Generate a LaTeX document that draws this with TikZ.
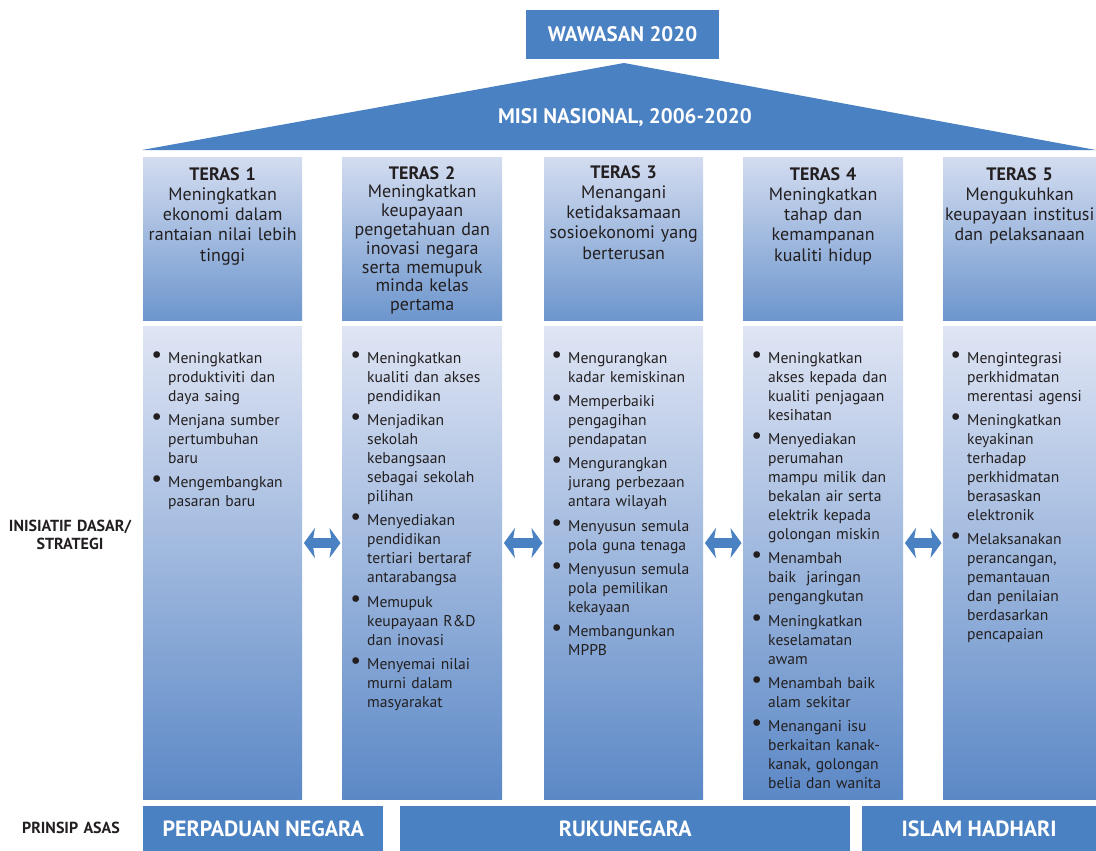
\documentclass[tikz,border=0pt]{standalone}
\usepackage{fontspec}
\setmainfont{PT Sans}
\usetikzlibrary{arrows.meta}
\definecolor{wblue}{HTML}{4A81C2}
\definecolor{ink}{HTML}{231F20}
\definecolor{hdtop}{HTML}{D3DCF0}
\definecolor{hdbot}{HTML}{6D96CD}
\definecolor{bdtop}{HTML}{DFE5F4}
\definecolor{bdbot}{HTML}{5B88C6}
\newcommand{\bul}{\leavevmode\llap{\raisebox{1pt}{\fontsize{24}{24}\selectfont\textbullet}\hspace{6pt}}}

\begin{document}
\begin{tikzpicture}
[x=1pt, y=-1pt,
hdbox/.style ={rectangle, inner sep=0pt, anchor=north west,
minimum height=163, top color=hdtop, bottom color=hdbot},
bdbox/.style ={rectangle, inner sep=0pt, anchor=north west,
minimum height=473, top color=bdtop, bottom color=bdbot},
hdtext/.style ={anchor=base, inner sep=0pt, text width=170pt, align=center,
text=ink, font=\fontsize{18}{20.3}\selectfont},
bdtext/.style ={anchor=base west, inner sep=0pt, text width=135pt, align=left,
text=ink, font=\fontsize{15.6}{19}\selectfont},
bar/.style ={rectangle, inner sep=0pt, fill=wblue, text=white,
minimum height=45, font=\bfseries\fontsize{22}{24}\selectfont},
side/.style ={anchor=base, inner sep=0pt, text width=150pt, align=center,
text=ink, font=\bfseries\fontsize{16}{18}\selectfont},
twoway/.style ={draw=wblue, line width=10pt,
>={Stealth[length=11pt,width=30pt,inset=2.5pt]}, <->}]

\useasboundingbox (0,0) rectangle (1096,851);

% roof
\node[bar, minimum width=193, minimum height=49,
font=\bfseries\fontsize{21}{24}\selectfont] (wawasan) at (622.5,34.5) {WAWASAN 2020};
\fill[wblue] (142,150) -- (624,63) -- (1096,150) -- cycle;
\node[anchor=base, inner sep=0pt, text=white,
font=\bfseries\fontsize{21}{24}\selectfont] (misi) at (625,123) {MISI NASIONAL, 2006-2020};

% pillars
\foreach \i/\x/\w in {1/143/159, 2/342/160, 3/544/159, 4/743/160, 5/943/153} {
  \node[hdbox, minimum width=\w] (h\i) at (\x,157) {};
  \node[bdbox, minimum width=\w] (b\i) at (\x,326) {};
}

% teras
\node[hdtext] (t1) at ([yshift=-23pt]h1.north) {\textbf{TERAS 1}\\Meningkatkan\\ekonomi dalam\\rantaian nilai lebih\\tinggi};
\node[hdtext, font=\fontsize{18}{18.8}\selectfont] (t2) at ([yshift=-22pt]h2.north) {\textbf{TERAS 2}\\Meningkatkan\\keupayaan\\pengetahuan dan\\inovasi negara\\serta memupuk\\minda kelas\\pertama};
\node[hdtext] (t3) at ([yshift=-21pt]h3.north) {\textbf{TERAS 3}\\Menangani\\ketidaksamaan\\sosioekonomi yang\\berterusan};
\node[hdtext] (t4) at ([yshift=-23pt]h4.north) {\textbf{TERAS 4}\\Meningkatkan\\tahap dan\\kemampanan\\kualiti hidup};
\node[hdtext] (t5) at ([yshift=-23pt]h5.north) {\textbf{TERAS 5}\\Mengukuhkan\\keupayaan institusi\\dan pelaksanaan};

% inisiatif
\node[bdtext] (s1) at ([xshift=25pt,yshift=-37.3pt]b1.north west)
{\bul Meningkatkan\\produktiviti dan\\daya saing\\[5.3pt]
\bul Menjana sumber\\pertumbuhan\\baru\\[5.3pt]
\bul Mengembangkan\\pasaran baru};
\node[bdtext] (s2) at ([xshift=25pt,yshift=-37.3pt]b2.north west)
{\bul Meningkatkan\\kualiti dan akses\\pendidikan\\[5.3pt]
\bul Menjadikan\\sekolah\\kebangsaan\\sebagai sekolah\\pilihan\\[5.3pt]
\bul Menyediakan\\pendidikan\\tertiari bertaraf\\antarabangsa\\[5.3pt]
\bul Memupuk\\keupayaan R\&D\\dan inovasi\\[5.3pt]
\bul Menyemai nilai\\murni dalam\\masyarakat};
\node[bdtext] (s3) at ([xshift=24pt,yshift=-37.3pt]b3.north west)
{\bul Mengurangkan\\kadar kemiskinan\\[5.3pt]
\bul Memperbaiki\\pengagihan\\pendapatan\\[5.3pt]
\bul Mengurangkan\\jurang perbezaan\\antara wilayah\\[5.3pt]
\bul Menyusun semula\\pola guna tenaga\\[5.3pt]
\bul Menyusun semula\\pola pemilikan\\kekayaan\\[5.3pt]
\bul Membangunkan\\MPPB};
\node[bdtext] (s4) at ([xshift=25pt,yshift=-37.3pt]b4.north west)
{\bul Meningkatkan\\akses kepada dan\\kualiti penjagaan\\kesihatan\\[5.3pt]
\bul Menyediakan\\perumahan\\mampu milik dan\\bekalan air serta\\elektrik kepada\\golongan miskin\\[5.3pt]
\bul Menambah\\baik~ jaringan\\pengangkutan\\[5.3pt]
\bul Meningkatkan\\keselamatan\\awam\\[5.3pt]
\bul Menambah baik\\alam sekitar\\[5.3pt]
\bul Menangani isu\\berkaitan kanak-\\kanak, golongan\\belia dan wanita};
\node[bdtext] (s5) at ([xshift=24pt,yshift=-37.3pt]b5.north west)
{\bul Mengintegrasi\\perkhidmatan\\merentasi agensi\\[5.3pt]
\bul Meningkatkan\\keyakinan\\terhadap\\perkhidmatan\\berasaskan\\elektronik\\[5.3pt]
\bul Melaksanakan\\perancangan,\\pemantauan\\dan penilaian\\berdasarkan\\pencapaian};

% links between pillars
\coordinate (mid) at (0,543);
\foreach \a/\b in {1/2, 2/3, 3/4, 4/5}
  \draw[twoway, shorten <=1.5pt, shorten >=1.5pt] (b\a.east |- mid) -- (b\b.west |- mid);

% prinsip asas
\node[bar, minimum width=240, anchor=north west] (paduan) at (143,806) {PERPADUAN NEGARA};
\node[bar, minimum width=450, anchor=north west] (rukun) at (400,806) {RUKUNEGARA};
\node[bar, minimum width=234, anchor=north west] (islam) at (862,806) {ISLAM HADHARI};

% side labels
\node[side] (inisiatif) at (70,531) {INISIATIF DASAR/\\STRATEGI};
\node[side] (prinsip) at (71,833) {PRINSIP ASAS};
\end{tikzpicture}
\end{document}
